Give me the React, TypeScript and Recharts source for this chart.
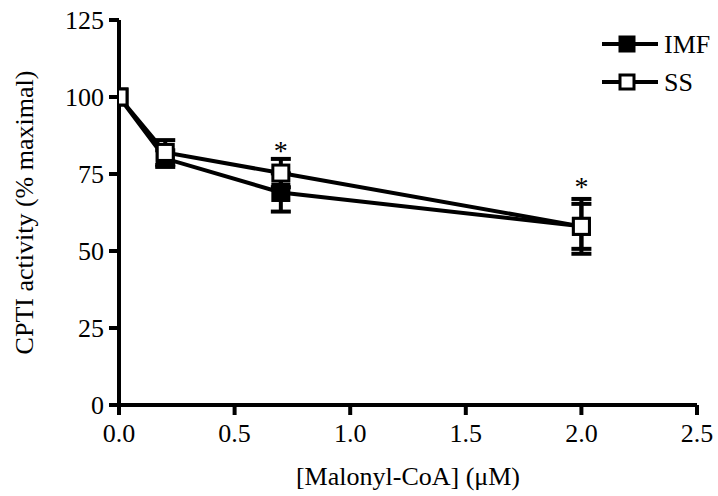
import { ComposedChart, Line, Scatter, XAxis, YAxis, ErrorBar, Legend, Label } from 'recharts';

const concentrations = [0, 0.2, 0.7, 2.0];
const imfValues = [100, 80, 69, 58];
const imfErrors = [0, 2.7, 6.2, 7.3];
const ssValues = [100, 82, 75.3, 58];
const ssErrors = [0, 4, 4.6, 8.9];

const starX = [0.7, 2.0];
const starY = [83.5, 71.8];

const xTicks = [0, 0.5, 1.0, 1.5, 2.0, 2.5];
const yTicks = [0, 25, 50, 75, 100, 125];

const FONT = 'Liberation Serif';

const rows = concentrations.map((c, i) => ({
    x: c,
    imf: imfValues[i],
    imfErr: imfErrors[i],
    ss: ssValues[i],
    ssErr: ssErrors[i]
}));

const stars = starX.map((x, i) => ({ x, star: starY[i] }));

const SquareDot = (filled: boolean) => (props: any) => {
    const { cx, cy, index } = props;
    if (cx == null || cy == null) return <g key={index} />;
    return (
        <rect
            key={index}
            x={cx - 8}
            y={cy - 8}
            width={16}
            height={16}
            fill={filled ? '#000' : '#fff'}
            stroke="#000"
            strokeWidth={3}
        />
    );
};

const StarShape = (props: any) => (
    <text x={props.cx} y={props.cy} dy={12} textAnchor="middle" style={{ fontFamily: FONT }} fontSize={28} fill="#000">
        *
    </text>
);

const LegendBox = () => {
    const items = [
        { name: 'IMF', filled: true },
        { name: 'SS', filled: false }
    ];
    return (
        <svg width={120} height={80}>
            {items.map((it, i) => {
                const y = 14 + i * 38;
                return (
                    <g key={it.name}>
                        <line x1={4} y1={y} x2={60} y2={y} stroke="#000" strokeWidth={4} />
                        <rect x={22} y={y - 7} width={14} height={14} fill={it.filled ? '#000' : '#fff'} stroke="#000" strokeWidth={3} />
                        <text x={66} y={y} dominantBaseline="central" style={{ fontFamily: FONT }} fontSize={26} fill="#000">
                            {it.name}
                        </text>
                    </g>
                );
            })}
        </svg>
    );
};

const YTitle = (props: any) => {
    const vb = props.viewBox;
    const cx = vb.x + 24;
    const cy = vb.y + vb.height / 2;
    return (
        <text x={cx} y={cy} transform={`rotate(-90 ${cx} ${cy})`} textAnchor="middle" dominantBaseline="central" style={{ fontFamily: FONT }} fontSize={26} fill="#000">
            CPTI activity (% maximal)
        </text>
    );
};

export default function App() {
    const tickStyle = { fontSize: 26, fill: '#000', style: { fontFamily: FONT } };
    return (
        <div style={{ position: 'absolute', left: 0, top: 0, width: 718, height: 496, background: '#fff', fontFamily: FONT }}>
            <ComposedChart width={718} height={496} data={rows} margin={{ top: 20, right: 21, left: 0, bottom: 41 }} style={{ fontFamily: FONT }}>
                <XAxis
                    type="number"
                    dataKey="x"
                    domain={[0, 2.5]}
                    ticks={xTicks}
                    tickFormatter={(v: number) => v.toFixed(1)}
                    tick={tickStyle}
                    tickSize={10}
                    tickMargin={9}
                    axisLine={{ stroke: '#000', strokeWidth: 4 }}
                    tickLine={{ stroke: '#000', strokeWidth: 4 }}
                    height={50}
                    allowDataOverflow
                >
                    <Label value="[Malonyl-CoA] (μM)" position="bottom" offset={12} fontSize={26} fill="#000" style={{ fontFamily: FONT }} />
                </XAxis>
                <YAxis
                    type="number"
                    domain={[0, 125]}
                    ticks={yTicks}
                    tick={tickStyle}
                    tickSize={10}
                    tickMargin={5}
                    width={119}
                    axisLine={{ stroke: '#000', strokeWidth: 4 }}
                    tickLine={{ stroke: '#000', strokeWidth: 4 }}
                    allowDataOverflow
                >
                    <Label content={YTitle} />
                </YAxis>
                <Legend
                    content={LegendBox}
                    layout="horizontal"
                    align="center"
                    verticalAlign="middle"
                    wrapperStyle={{ position: 'absolute', left: 598, top: 30, width: 120 }}
                />
                <Line
                    dataKey="imf"
                    name="IMF"
                    stroke="#000"
                    strokeWidth={4}
                    dot={SquareDot(true)}
                    isAnimationActive={false}
                >
                    <ErrorBar dataKey="imfErr" direction="y" width={10} stroke="#000" strokeWidth={4} />
                </Line>
                <Line
                    dataKey="ss"
                    name="SS"
                    stroke="#000"
                    strokeWidth={4}
                    dot={SquareDot(false)}
                    isAnimationActive={false}
                >
                    <ErrorBar dataKey="ssErr" direction="y" width={10} stroke="#000" strokeWidth={4} />
                </Line>
                <Scatter data={stars} dataKey="star" shape={StarShape} isAnimationActive={false} legendType="none" />
            </ComposedChart>
        </div>
    );
}
